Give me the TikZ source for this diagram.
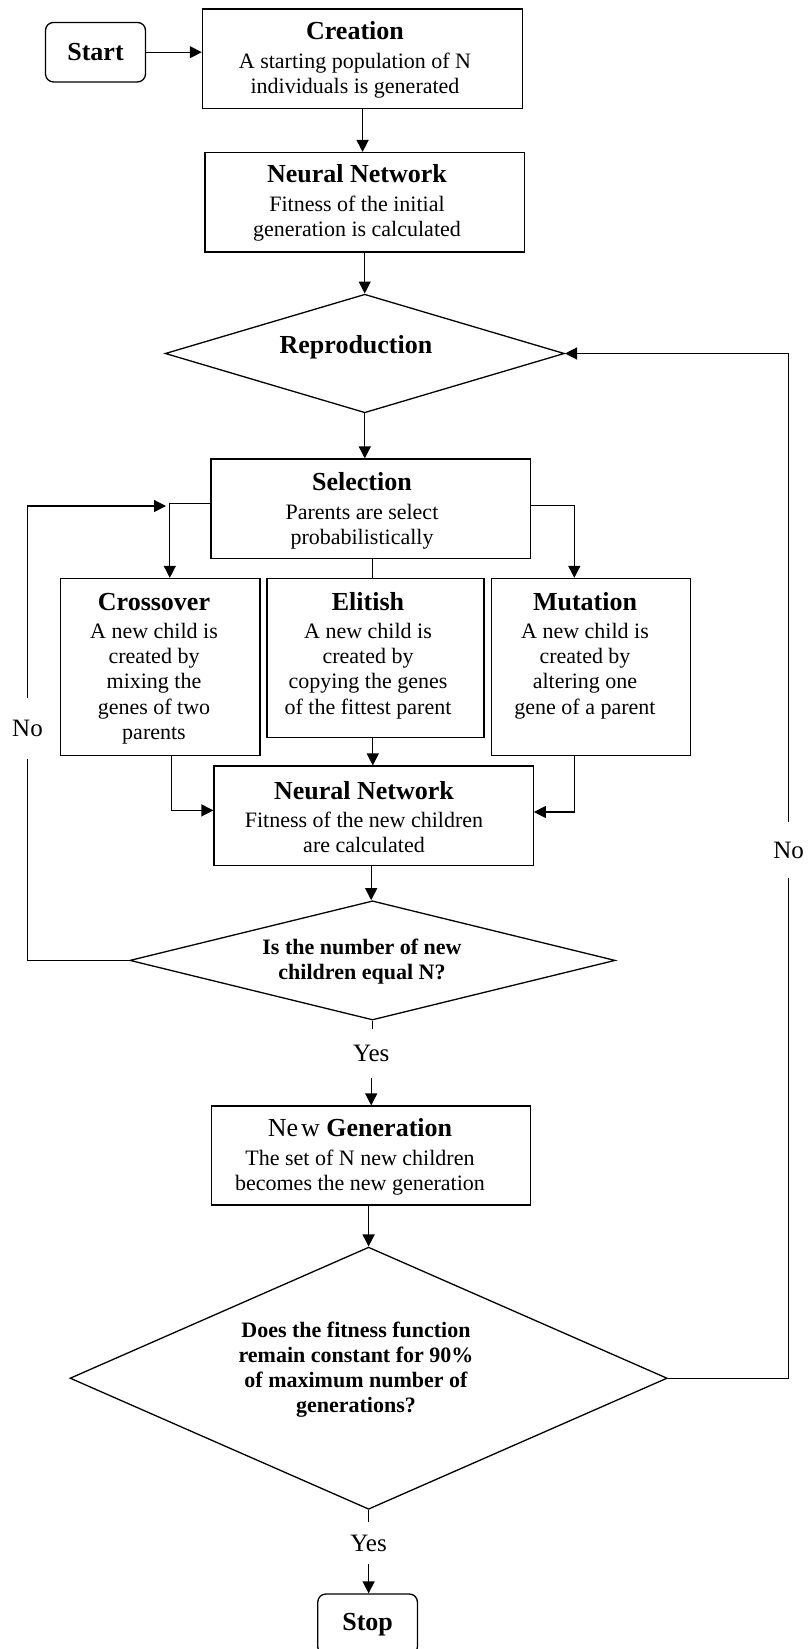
\documentclass[tikz,border=0pt]{standalone}
\usepackage{fontspec}
\setmainfont{Liberation Serif}
\usetikzlibrary{arrows.meta,shapes.geometric,calc}
\newcommand{\ttl}[1]{{\fontsize{13}{15}\selectfont\bfseries #1}}
\begin{document}
\begin{tikzpicture}[x=0.5pt,y=-0.5pt,
  line width=0.65pt,
  every node/.style={font=\fontsize{11}{12.6}\selectfont},
  box/.style={draw, rectangle, inner sep=0pt},
  rbox/.style={draw, rectangle, rounded corners=4pt, inner sep=0pt},
  txt/.style={align=center, inner sep=0pt},
  dia/.style={draw, diamond, inner sep=0pt},
  dtext/.style={align=center, inner sep=0pt, font=\fontsize{11}{12.5}\selectfont\bfseries},
  lbl/.style={inner sep=0pt, font=\fontsize{12.5}{14}\selectfont},
  arr/.style={-{Triangle[length=6pt,width=6pt]}},
]
\useasboundingbox (0,0) rectangle (810,1649);

% ---- nodes ----
\node[rbox, minimum width=50pt, minimum height=29.75pt] (start) at (95.5,52.2) {\ttl{Start}};

\node[box, minimum width=160.2pt, minimum height=49.8pt] (creation) at (362.6,58.9) {};
\node[txt] (creation-t) at (355,60) {\ttl{Creation}\\[1.5pt]A starting population of N\\individuals is generated};

\node[box, minimum width=159.7pt, minimum height=49.7pt] (nn1) at (364.7,202.3) {};
\node[txt] (nn1-t) at (357,203) {\ttl{Neural Network}\\[1.5pt]Fitness of the initial\\generation is calculated};

\node[dia, minimum width=199.6pt, minimum height=59.3pt] (repro) at (364.8,353.5) {};
\node[txt] (repro-t) at (356,347) {\ttl{Reproduction}};

\node[box, minimum width=159.8pt, minimum height=49.8pt] (sel) at (370.8,508.8) {};
\node[txt] (sel-t) at (362,511) {\ttl{Selection}\\[1.5pt]Parents are select\\probabilistically};

\node[box, minimum width=99.6pt, minimum height=88.4pt] (cross) at (160.4,666.9) {};
\node[txt] (cross-t) at (154,668.5) {\ttl{Crossover}\\[1.5pt]A new child is\\created by\\mixing the\\genes of two\\parents};

\node[box, minimum width=108.5pt, minimum height=79.4pt] (elit) at (375.4,657.9) {};
\node[txt] (elit-t) at (368,655.5) {\ttl{Elitish}\\[1.5pt]A new child is\\created by\\copying the genes\\of the fittest parent};

\node[box, minimum width=99.7pt, minimum height=88.4pt] (mut) at (590.9,666.9) {};
\node[txt] (mut-t) at (585,655.5) {\ttl{Mutation}\\[1.5pt]A new child is\\created by\\altering one\\gene of a parent};

\node[box, minimum width=159.6pt, minimum height=49.7pt] (nn2) at (373.6,815.8) {};
\node[txt] (nn2-t) at (364,817) {\ttl{Neural Network}\\[1.5pt]Fitness of the new children\\are calculated};

\node[dia, minimum width=242.7pt, minimum height=59.6pt] (d2) at (372.5,960.4) {};
\node[dtext] (d2-t) at (362,962) {Is the number of new\\children equal N?};

\node[box, minimum width=159.4pt, minimum height=49.5pt] (newgen) at (371.2,1155.5) {};
\node[txt] (newgen-t) at (360,1157) {{\fontsize{13}{15}\selectfont Ne\hspace{1.5pt}w \textbf{Generation}}\\[1.5pt]The set of N new children\\becomes the new generation};

\node[dia, minimum width=298.6pt, minimum height=131.1pt] (d3) at (368.6,1378.2) {};
\node[dtext] (d3-t) at (356,1370) {Does the fitness function\\remain constant for 90\%\\of maximum number of\\generations?};

\node[rbox, minimum width=49.8pt, minimum height=30.5pt] (stop) at (367.6,1624.5) {\ttl{Stop}};

% labels
\node[lbl, minimum height=29.5pt] (no1) at (27.5,728.5) {No};
\node[lbl, minimum height=27pt] (no2) at (788.7,850) {No};
\node[lbl, minimum height=23.5pt] (yes1) at (371.2,1053.5) {Yes};
\node[lbl, minimum height=20pt] (yes2) at (368.6,1543) {Yes};
\coordinate (nojoin) at (166,506);

% ---- connectors ----
\draw[arr] (start.east) -- (start.east -| creation.west);
\draw[arr] (creation.south) -- (creation.south |- nn1.north);
\draw[arr] (nn1.south) -- (nn1.south |- repro.north);
\draw[arr] (repro.south) -- (repro.south |- sel.north);
\draw[arr] (sel.west |- 0,503.3) -| (cross.north -| 169.8,0);
\draw[arr] (sel.east |- 0,505.8) -| (mut.north -| 574.3,0);
\draw (sel.south -| 372.8,0) -- (elit.north -| 372.8,0);
\draw[arr] (elit.south -| 372.8,0) -- (nn2.north -| 372.8,0);
\draw[arr] (cross.south -| 171.3,0) |- (nn2.west |- 0,810.4);
\draw[arr] (mut.south -| 574.3,0) |- (nn2.east |- 0,812);
\draw[arr] (nn2.south -| 371.2,0) -- (d2.north -| 371.2,0);
\draw (d2.west) -| (no1.south);
\draw[arr] (no1.north) |- (nojoin);
\draw (d2.south) -- (d2.south |- yes1.north);
\draw[arr] (yes1.south) -- (yes1.south |- newgen.north);
\draw[arr] (newgen.south -| 368.6,0) -- (d3.north);
\draw (d3.south) -- (d3.south |- yes2.north);
\draw[arr] (yes2.south) -- (yes2.south |- stop.north);
\draw (d3.east) -| (no2.south);
\draw[arr] (no2.north) |- (repro.east);
\end{tikzpicture}
\end{document}
